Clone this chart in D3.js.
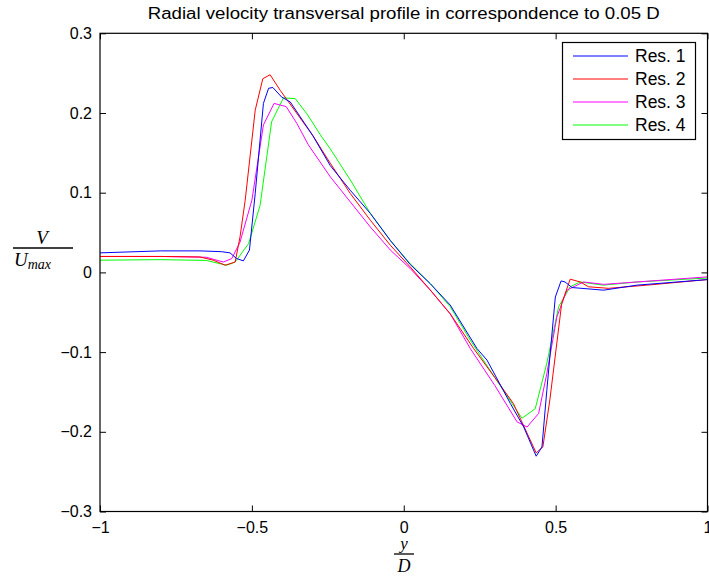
<!DOCTYPE html>
<html>
<head>
<meta charset="utf-8">
<script src="https://cdn.jsdelivr.net/npm/d3@7"></script>
<style>
  body { margin: 0; background: #fff; }
  svg { display: block; }
  .tick text { font-family: "Liberation Sans", Arial, sans-serif; }
</style>
</head>
<body>
<svg id="chart" width="709" height="578"></svg>
<script>
// Res. 1 (blue)
const res1X = [-1, -0.8, -0.671, -0.6, -0.572, -0.55, -0.528, -0.508, -0.489, -0.462, -0.445, -0.431, -0.402, -0.374, -0.3, -0.242, -0.176, -0.110, -0.044, 0.021, 0.087, 0.153, 0.241, 0.274, 0.351, 0.395, 0.436, 0.455, 0.471, 0.499, 0.518, 0.531, 0.554, 0.658, 0.768, 1.0];
const res1Y = [0.0245, 0.027, 0.027, 0.026, 0.0245, 0.0174, 0.0145, 0.028, 0.099, 0.212, 0.231, 0.232, 0.220, 0.214, 0.172, 0.134, 0.103, 0.074, 0.040, 0.010, -0.014, -0.041, -0.0955, -0.110, -0.1645, -0.194, -0.2306, -0.219, -0.148, -0.031, -0.0107, -0.012, -0.019, -0.0223, -0.016, -0.009];

// Res. 2 (red)
const res2X = [-1, -0.8, -0.671, -0.627, -0.588, -0.555, -0.539, -0.522, -0.489, -0.464, -0.440, -0.407, -0.3, -0.242, -0.176, -0.110, -0.044, 0.021, 0.087, 0.153, 0.230, 0.3, 0.361, 0.436, 0.458, 0.481, 0.520, 0.548, 0.581, 0.608, 0.674, 0.8, 1.0];
const res2Y = [0.020, 0.020, 0.0194, 0.0153, 0.009, 0.013, 0.0445, 0.0906, 0.2035, 0.243, 0.248, 0.2286, 0.172, 0.137, 0.099, 0.0655, 0.034, 0.007, -0.022, -0.052, -0.0955, -0.132, -0.1645, -0.2265, -0.219, -0.160, -0.039, -0.0085, -0.012, -0.018, -0.020, -0.016, -0.009];

// Res. 3 (magenta)
const res3X = [-1, -0.8, -0.65, -0.594, -0.566, -0.539, -0.500, -0.462, -0.427, -0.387, -0.352, -0.314, -0.242, -0.176, -0.110, -0.044, 0.021, 0.087, 0.153, 0.219, 0.3, 0.373, 0.406, 0.444, 0.471, 0.504, 0.537, 0.592, 0.658, 0.768, 1.0];
const res3Y = [0.020, 0.020, 0.019, 0.013, 0.0174, 0.038, 0.0906, 0.185, 0.212, 0.208, 0.187, 0.160, 0.120, 0.0885, 0.057, 0.028, 0.0049, -0.022, -0.052, -0.0955, -0.142, -0.1875, -0.194, -0.177, -0.127, -0.056, -0.0223, -0.012, -0.015, -0.012, -0.0056];

// Res. 4 (green)
const res4X = [-1, -0.8, -0.65, -0.583, -0.555, -0.511, -0.473, -0.435, -0.396, -0.357, -0.319, -0.270, -0.242, -0.176, -0.110, -0.044, 0.021, 0.087, 0.153, 0.219, 0.3, 0.389, 0.433, 0.471, 0.510, 0.548, 0.581, 0.658, 0.768, 1.0];
const res4Y = [0.0153, 0.016, 0.015, 0.009, 0.013, 0.036, 0.084, 0.189, 0.219, 0.218, 0.199, 0.170, 0.155, 0.116, 0.074, 0.040, 0.011, -0.014, -0.043, -0.085, -0.132, -0.183, -0.171, -0.114, -0.043, -0.018, -0.012, -0.016, -0.012, -0.007];

const seriesNames = ["Res. 1", "Res. 2", "Res. 3", "Res. 4"];
const seriesColors = ["#0000ff", "#ff0000", "#ff00ff", "#00ff00"];
const xTicks = [-1, -0.5, 0, 0.5, 1];
const yTicks = [-0.3, -0.2, -0.1, 0, 0.1, 0.2, 0.3];
const titleText = "Radial velocity transversal profile in correspondence to 0.05 D";

const svg = d3.select("#chart");
const plotLeft = 100, plotRight = 707.5, plotTop = 33.3, plotBottom = 511.5;

const x = d3.scaleLinear().domain([-1, 1]).range([plotLeft, plotRight]);
const y = d3.scaleLinear().domain([-0.3, 0.3]).range([plotBottom, plotTop]);

const fmt = d => d === 0 ? "0" : (d < 0 ? "\u2212" : "") + Math.abs(d);

// curves, clipped to the box
svg.append("clipPath").attr("id", "clip")
  .append("rect").attr("x", plotLeft).attr("y", plotTop)
  .attr("width", plotRight - plotLeft).attr("height", plotBottom - plotTop);

const allSeries = [[res1X, res1Y], [res2X, res2Y], [res3X, res3Y], [res4X, res4Y]];
const line = d3.line().x(d => x(d[0])).y(d => y(d[1]));

// draw green first so blue sits on top as in the reference
[3, 2, 1, 0].forEach(i => {
  const pts = allSeries[i][0].map((v, j) => [v, allSeries[i][1][j]]);
  svg.append("path")
    .attr("d", line(pts))
    .attr("fill", "none")
    .attr("stroke", seriesColors[i])
    .attr("stroke-width", 1)
    .attr("clip-path", "url(#clip)");
});

// axes, MATLAB box style with inward ticks on all four sides
const tickLen = 6;
const axisStyle = g => {
  g.select(".domain").remove();
  g.selectAll(".tick line").attr("stroke", "#000");
  g.selectAll(".tick text").attr("font-size", 16).attr("fill", "#000");
};

svg.append("g").attr("transform", `translate(0,${plotBottom})`)
  .call(d3.axisBottom(x).tickValues(xTicks).tickSize(-tickLen).tickPadding(10).tickFormat(fmt))
  .call(axisStyle);
svg.append("g").attr("transform", `translate(0,${plotTop})`)
  .call(d3.axisTop(x).tickValues(xTicks).tickSize(-tickLen).tickFormat(""))
  .call(axisStyle);
svg.append("g").attr("transform", `translate(${plotLeft},0)`)
  .call(d3.axisLeft(y).tickValues(yTicks).tickSize(-tickLen).tickPadding(8).tickFormat(fmt))
  .call(axisStyle);
svg.append("g").attr("transform", `translate(${plotRight},0)`)
  .call(d3.axisRight(y).tickValues(yTicks).tickSize(-tickLen).tickFormat(""))
  .call(axisStyle);

svg.append("rect")
  .attr("x", plotLeft).attr("y", plotTop)
  .attr("width", plotRight - plotLeft).attr("height", plotBottom - plotTop)
  .attr("fill", "none").attr("stroke", "#000").attr("stroke-width", 1.2);

// title (the reference is a bit stretched sideways)
svg.append("text")
  .attr("x", (plotLeft + plotRight) / 2).attr("y", 19)
  .attr("text-anchor", "middle")
  .attr("font-family", "Liberation Sans, Arial, sans-serif")
  .attr("font-size", 16)
  .attr("textLength", 512)
  .attr("lengthAdjust", "spacingAndGlyphs")
  .text(titleText);

// y label: V / U_max
const serif = "Liberation Serif, Times New Roman, serif";
const yl = svg.append("g");
yl.append("text").attr("x", 42).attr("y", 244).attr("text-anchor", "middle")
  .attr("font-family", serif).attr("font-style", "italic").attr("font-size", 19).text("V");
yl.append("line").attr("x1", 13).attr("x2", 73).attr("y1", 248).attr("y2", 248)
  .attr("stroke", "#000").attr("stroke-width", 1.3);
const ut = yl.append("text").attr("x", 14).attr("y", 266)
  .attr("font-family", serif).attr("font-style", "italic").attr("font-size", 19);
ut.append("tspan").text("U");
ut.append("tspan").attr("font-size", 14).attr("dy", 3).text("max");

// x label: y / D
const xl = svg.append("g");
xl.append("text").attr("x", 404).attr("y", 549).attr("text-anchor", "middle")
  .attr("font-family", serif).attr("font-style", "italic").attr("font-size", 17).text("y");
xl.append("line").attr("x1", 394).attr("x2", 414).attr("y1", 554).attr("y2", 554)
  .attr("stroke", "#000").attr("stroke-width", 1.3);
xl.append("text").attr("x", 404).attr("y", 572).attr("text-anchor", "middle")
  .attr("font-family", serif).attr("font-style", "italic").attr("font-size", 18).text("D");

// legend
const lg = svg.append("g");
lg.append("rect").attr("x", 562.5).attr("y", 42.5).attr("width", 133).attr("height", 97)
  .attr("fill", "#fff").attr("stroke", "#000").attr("stroke-width", 1.2);
seriesNames.forEach((name, i) => {
  const ry = 56 + i * 23;
  lg.append("line").attr("x1", 573).attr("x2", 628).attr("y1", ry).attr("y2", ry)
    .attr("stroke", seriesColors[i]).attr("stroke-width", 1);
  lg.append("text").attr("x", 635).attr("y", ry + 6)
    .attr("font-family", "Liberation Sans, Arial, sans-serif").attr("font-size", 17.5)
    .text(name);
});
</script>
</body>
</html>
